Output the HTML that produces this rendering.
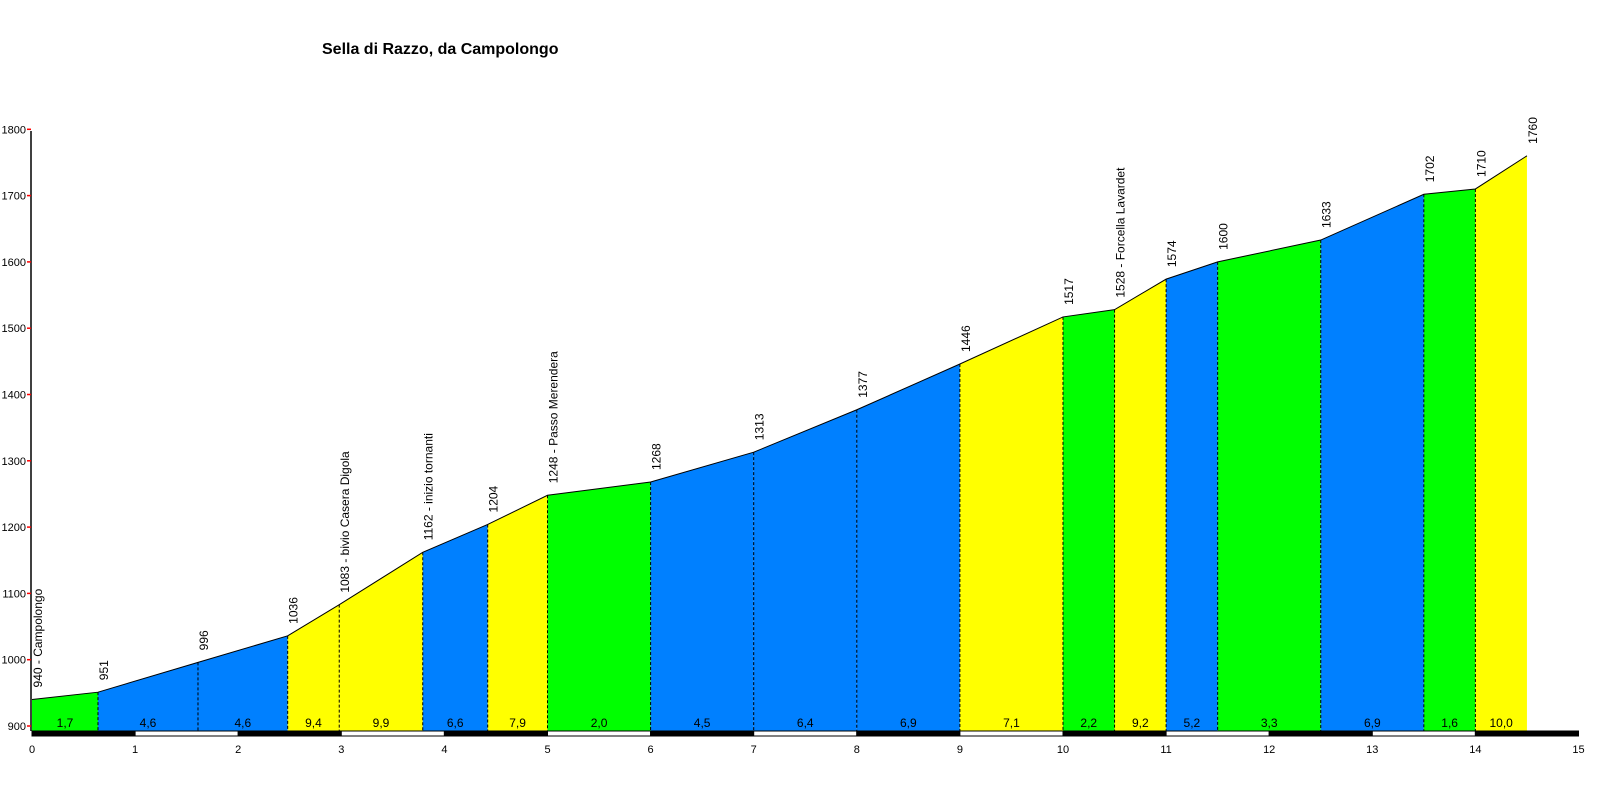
<!DOCTYPE html>
<html><head><meta charset="utf-8"><style>
html,body{margin:0;padding:0;background:#fff;width:1600px;height:800px;overflow:hidden}
text{font-family:"Liberation Sans",Arial,sans-serif;font-size:12px;fill:#000}
</style></head><body>
<svg id="s" width="1600" height="800" xmlns="http://www.w3.org/2000/svg">
<text x="322" y="54" style="font-size:16px;font-weight:bold">Sella di Razzo, da Campolongo</text>
</svg>
<script>
const s=document.getElementById('s');const NS='http://www.w3.org/2000/svg';
function el(t,a,txt){const e=document.createElementNS(NS,t);for(const k in a)e.setAttribute(k,a[k]);if(txt!==undefined)e.textContent=txt;s.appendChild(e);return e;}
const X=k=>32+103.1*k, Y=e=>726-(e-900)*0.663, G=731;
const km=[0,0.64,1.61,2.48,2.98,3.79,4.42,5,6,7,8,9,10,10.5,11,11.5,12.5,13.5,14,14.5];
const el_=[940,951,996,1036,1083,1162,1204,1248,1268,1313,1377,1446,1517,1528,1574,1600,1633,1702,1710,1760];
const names={0:'940 - Campolongo',4:'1083 - bivio Casera Digola',5:'1162 - inizio tornanti',7:'1248 - Passo Merendera',13:'1528 - Forcella Lavardet'};
const G_='#00ff00',B='#0080ff',Yl='#ffff00';
const col=[G_,B,B,Yl,Yl,B,Yl,G_,B,B,B,Yl,G_,Yl,B,G_,B,G_,Yl];
const pct=['1,7','4,6','4,6','9,4','9,9','6,6','7,9','2,0','4,5','6,4','6,9','7,1','2,2','9,2','5,2','3,3','6,9','1,6','10,0'];
for(let i=0;i<19;i++){
 const x1=X(km[i]),x2=X(km[i+1]);
 el('polygon',{points:`${x1},${G} ${x1},${Y(el_[i])} ${x2},${Y(el_[i+1])} ${x2},${G}`,fill:col[i]});
}
let d='';for(let i=0;i<20;i++)d+=(i?'L':'M')+X(km[i])+','+Y(el_[i]);
el('path',{d:d,fill:'none',stroke:'#000','stroke-width':1});
for(let i=1;i<19;i++)el('line',{x1:X(km[i]),y1:Y(el_[i]),x2:X(km[i]),y2:G,stroke:'#000','stroke-dasharray':'3,2','stroke-width':1});
for(let i=0;i<19;i++)el('text',{x:(X(km[i])+X(km[i+1]))/2,y:727,'text-anchor':'middle'},pct[i]);
for(let i=0;i<20;i++){const x=X(km[i])+10,y=Y(el_[i])-12;
 el('text',{x:x,y:y,transform:`rotate(-90 ${x} ${y})`},names[i]||String(el_[i]));}
for(let k=0;k<15;k++)el('rect',{x:X(k),y:G,width:103.1,height:5,fill:k%2?'#fff':'#000',stroke:'#000','stroke-width':1});
for(let k=0;k<=15;k++)el('text',{x:X(k),y:753,'text-anchor':'middle',style:'font-size:11px'},String(k));
el('line',{x1:31,y1:131,x2:31,y2:G,stroke:'#000','stroke-width':1.5});
for(let e=900;e<=1800;e+=100){el('line',{x1:27,y1:Y(e),x2:31,y2:Y(e),stroke:'#ff0000','stroke-width':1.5});
 el('text',{x:26,y:Y(e)+4,'text-anchor':'end',style:'font-size:11px'},String(e));}
</script>
</body></html>
